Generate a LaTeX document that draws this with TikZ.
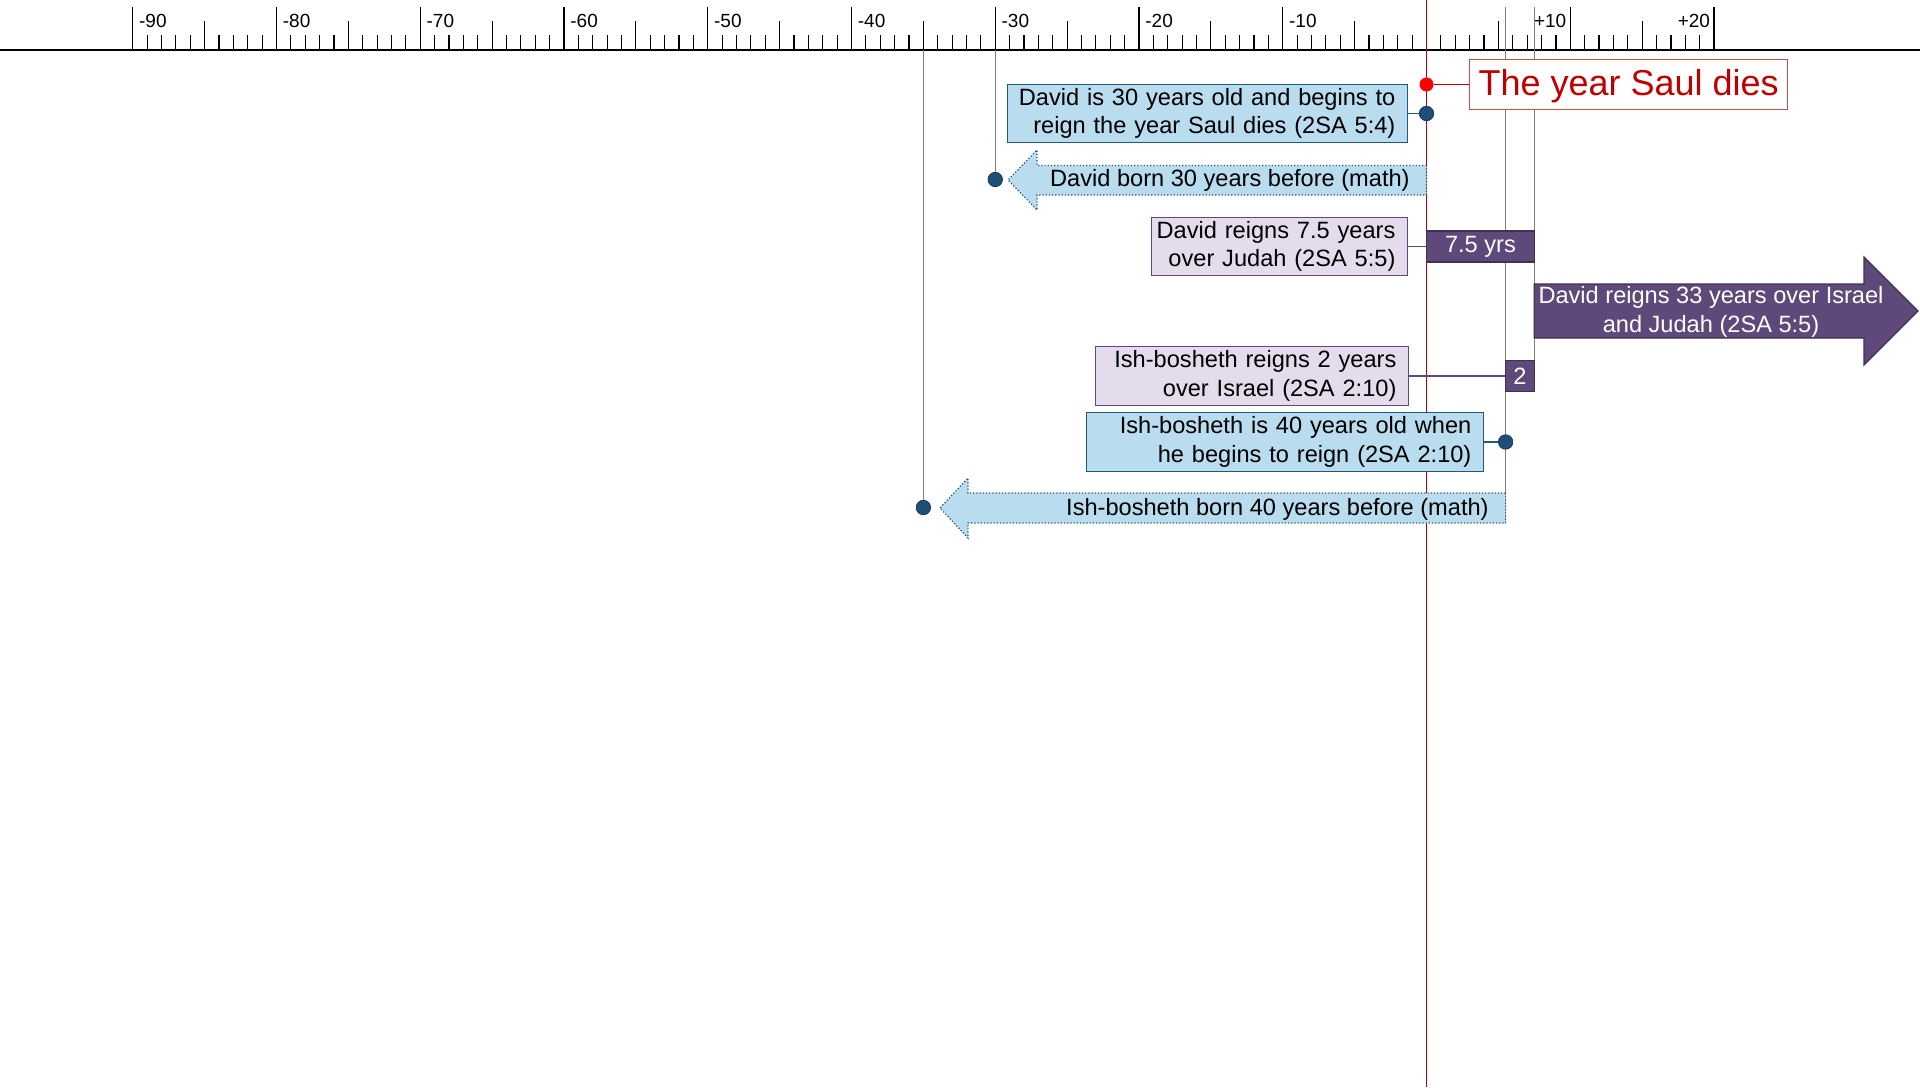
\documentclass[tikz,border=0pt]{standalone}
\usepackage{fontspec}
\setmainfont{Liberation Sans}
\definecolor{saulred}{HTML}{C00000}
\definecolor{dotred}{HTML}{FF0000}
\definecolor{saulframe}{HTML}{C0504D}
\definecolor{skyfill}{HTML}{B9DCEF}
\definecolor{skydraw}{HTML}{23587A}
\definecolor{dotblue}{HTML}{1F4E79}
\definecolor{lilacfill}{HTML}{E4DCEC}
\definecolor{lilacdraw}{HTML}{5F497A}
\definecolor{plumfill}{HTML}{5F497A}
\definecolor{plumdraw}{HTML}{3F3151}
\newcommand\boxfont{\fontsize{11.8}{14.2}\selectfont}
\newcommand\tickfont{\fontsize{9.5}{11}\selectfont}
\tikzset{>=latex}

\begin{document}
\begin{tikzpicture}[x=0.5pt,y=-0.5pt,
    bluebox/.style={draw=skydraw,fill=skyfill,line width=0.6pt,align=right,
      inner xsep=6pt,inner ysep=2pt,font=\boxfont},
    lilacbox/.style={draw=lilacdraw,fill=lilacfill,line width=0.6pt,align=right,
      inner xsep=6pt,inner ysep=2pt,font=\boxfont},
    plumbar/.style={draw=plumdraw,fill=plumfill,line width=0.6pt,text=white,
      inner sep=0,minimum height=15.5pt,font=\boxfont},
    bornarrow/.style={draw=dotblue,fill=skyfill,densely dotted,line width=0.6pt},
    yeardot/.style={circle,fill=dotblue,draw=dotblue!70!black,line width=0.4pt,
      inner sep=0,minimum size=7.2pt},
    yearline/.style={draw=gray,line width=0.5pt}]
  \useasboundingbox (0,0) rectangle (1920,1087);
  % time axis, one tick a year
  \draw[line width=0.6pt] (0,50) -- (1920,50);
  \foreach\t in {-90,...,20}{
    \draw[line width=0.6pt] ({1426.5+14.375*\t},35) -- ({1426.5+14.375*\t},50);}
  \foreach\t in {-85,-75,...,15}{
    \draw[line width=0.6pt] ({1426.5+14.375*\t},21) -- ({1426.5+14.375*\t},50);}
  \foreach\t in {-90,-80,...,20}{
    \draw[line width=0.7pt] ({1426.5+14.375*\t},7) -- ({1426.5+14.375*\t},50);}
  \foreach\t in {-90,-80,...,-10}{
    \node[anchor=base west,inner xsep=3pt,font=\tickfont] at ({1426.5+14.375*\t},27) {\t};}
  \foreach\t in {10,20}{
    \node[anchor=base east,inner xsep=1.8pt,font=\tickfont] at ({1426.5+14.375*\t},27) {+\t};}
  % year lines
  \coordinate (zerotop) at (1426.5,0);
  \coordinate (zerobot) at (1426.5,1087);
  \draw[saulred,line width=0.8pt] (zerotop) -- (zerobot);
  \coordinate (ishtop) at (1505.6,7);
  \coordinate (ishend) at (1505.6,523);
  \coordinate (dvtop) at (1534.3,7);
  \coordinate (dvend) at (1534.3,391);
  \draw[yearline] (ishtop) -- (ishend);
  \draw[yearline] (dvtop) -- (dvend);
  \coordinate (dvbtop) at (995.25,50);
  \coordinate (ishbtop) at (923.4,50);
  % the year Saul dies
  \node[draw=saulframe,fill=white,line width=0.7pt,text=saulred,
    font=\fontsize{18}{21}\selectfont,text depth=2pt,minimum width=159pt,
    minimum height=25pt,inner sep=0,anchor=west] (saul) at (1469,84.5) {The year Saul dies};
  \node[circle,fill=dotred,inner sep=0,minimum size=7pt] (sauldot) at (1426.5,84.5) {};
  \draw[saulred,line width=0.8pt] (sauldot) -- (saul.west);
  % David
  \node[bluebox,anchor=east,text width=188pt] (dvthirty) at (1408,113.5)
    {\hspace*{-6pt}David is 30 years old and begins to\\reign the year Saul dies (2SA 5:4)};
  \draw[bornarrow] (1426.5,165.5) -- (1037,165.5) -- (1037,150) -- (1008,180)
    -- (1037,210) -- (1037,195) -- (1426.5,195) -- cycle;
  \node[anchor=east,inner sep=0,font=\boxfont] (dvborn) at (1410,180.5)
    {David born 30 years before (math)};
  \node[lilacbox,anchor=east,text width=116pt] (dvjudah) at (1408,246.5)
    {\hspace*{-8pt}David reigns 7.5 years\\over Judah (2SA 5:5)};
  \node[plumbar,minimum width=53.9pt] (judah) at (1480.4,246.5) {7.5 yrs};
  \draw[plumdraw,fill=plumfill,line width=0.6pt] (1534.3,284) -- (1864,284)
    -- (1864,257) -- (1918,311) -- (1864,365) -- (1864,338) -- (1534.3,338) -- cycle;
  \node[font=\boxfont,text=white,align=center] (israel) at (1711,312)
    {David reigns 33 years over Israel\\and Judah (2SA 5:5)};
  % Ish-bosheth
  \node[lilacbox,anchor=east,text width=144.5pt] (ishreign) at (1409,376)
    {Ish-bosheth reigns 2 years\\over Israel (2SA 2:10)};
  \node[plumbar,minimum width=14.35pt] (ishyrs) at (1520,376) {2};
  \node[bluebox,anchor=east,text width=186.5pt] (ishforty) at (1484,442)
    {Ish-bosheth is 40 years old when\\he begins to reign (2SA 2:10)};
  \draw[bornarrow] (1505.6,493) -- (968,493) -- (968,478) -- (940,508)
    -- (968,538) -- (968,523) -- (1505.6,523) -- cycle;
  \node[anchor=east,inner sep=0,font=\boxfont] (ishborn) at (1489,509)
    {Ish-bosheth born 40 years before (math)};
  % connectors and dots
  \node[yeardot] (dvdot) at (1426.5,113.5) {};
  \node[yeardot] (dvbdot) at (995.25,179.5) {};
  \node[yeardot] (ishdot) at (1505.6,442) {};
  \node[yeardot] (ishbdot) at (923.4,507.5) {};
  \draw[skydraw,line width=0.6pt] (dvthirty.east) -- (dvdot);
  \draw[skydraw,line width=0.6pt] (ishforty.east) -- (ishdot);
  \draw[lilacdraw,line width=0.6pt] (dvjudah.east) -- (judah.west);
  \draw[lilacdraw,line width=0.6pt] (ishreign.east) -- (ishyrs.west);
  \draw[yearline] (dvbtop) -- (dvbdot);
  \draw[yearline] (ishbtop) -- (ishbdot);
\end{tikzpicture}
\end{document}
